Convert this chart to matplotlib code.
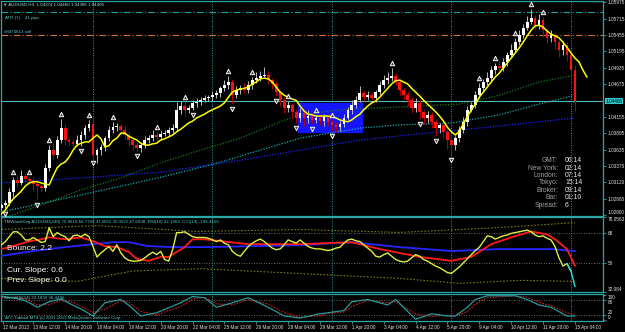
import matplotlib
matplotlib.use("Agg")
import matplotlib.pyplot as plt
import matplotlib.transforms as mtransforms
from matplotlib.patches import Rectangle
import numpy as np

plt.rcParams["font.family"] = ["Liberation Sans", "DejaVu Sans"]

# ---------------------------------------------------------------------------
# Data (AUDUSD H4)
# ---------------------------------------------------------------------------
OPEN_FIRST = 1.0270
CLOSE = [
    1.0272, 1.0276, 1.0279, 1.0297, 1.0316, 1.0311, 1.0322, 1.0317, 1.0314, 1.0309,
    1.0306, 1.0303, 1.0335, 1.0363, 1.0355, 1.0379, 1.0398, 1.0379, 1.0376, 1.0373,
    1.0379, 1.0387, 1.0398, 1.0404, 1.0355, 1.0363, 1.0368, 1.0382, 1.0395, 1.0400,
    1.0401, 1.0395, 1.0387, 1.0379, 1.0371, 1.0366, 1.0371, 1.0379, 1.0382, 1.0387,
    1.0384, 1.0389, 1.0390, 1.0395, 1.0398, 1.0427, 1.0433, 1.0427, 1.0430, 1.0438,
    1.0439, 1.0443, 1.0446, 1.0447, 1.0450, 1.0453, 1.0461, 1.0466, 1.0471, 1.0450,
    1.0458, 1.0461, 1.0458, 1.0466, 1.0474, 1.0477, 1.0481, 1.0482, 1.0474, 1.0468,
    1.0455, 1.0443, 1.0430, 1.0435, 1.0424, 1.0414, 1.0422, 1.0414, 1.0417, 1.0411,
    1.0414, 1.0409, 1.0416, 1.0408, 1.0403, 1.0400, 1.0404, 1.0414, 1.0427, 1.0435,
    1.0443, 1.0454, 1.0447, 1.0450, 1.0446, 1.0455, 1.0466, 1.0474, 1.0477, 1.0481,
    1.0471, 1.0458, 1.0450, 1.0443, 1.0430, 1.0438, 1.0424, 1.0414, 1.0419, 1.0408,
    1.0398, 1.0403, 1.0392, 1.0379, 1.0371, 1.0382, 1.0395, 1.0408, 1.0427, 1.0435,
    1.0450, 1.0461, 1.0471, 1.0477, 1.0490, 1.0496, 1.0493, 1.0503, 1.0514, 1.0522,
    1.0534, 1.0546, 1.0557, 1.0566, 1.0572, 1.0561, 1.0569, 1.0553, 1.0541, 1.0546,
    1.0534, 1.0522, 1.0530, 1.0514, 1.0490, 1.04406,
]
# wick lengths in pips above / below the body
WICK_UP = [
    4, 3, 5, 6, 4, 8, 10, 5, 4, 6, 3, 4, 6, 8, 12, 6, 14, 6, 5, 4,
    8, 6, 5, 6, 10, 4, 5, 3, 6, 8, 5, 4, 6, 4, 3, 5, 4, 6, 5, 8,
    4, 6, 5, 4, 6, 12, 8, 6, 5, 4, 6, 4, 5, 4, 6, 5, 4, 8, 10, 4,
    6, 5, 8, 6, 5, 10, 8, 12, 6, 4, 5, 3, 4, 6, 3, 5, 8, 6, 10, 5,
    4, 6, 5, 4, 3, 4, 5, 6, 5, 8, 6, 10, 4, 6, 5, 4, 6, 8, 10, 12,
    5, 4, 3, 6, 4, 8, 5, 3, 6, 4, 5, 3, 4, 5, 6, 4, 6, 8, 6, 5,
    6, 8, 5, 10, 6, 5, 8, 6, 5, 10, 6, 8, 6, 10, 14, 6, 10, 5, 4, 8,
    4, 5, 6, 4, 5, 8,
]
WICK_DN = [
    5, 4, 6, 5, 8, 6, 4, 5, 6, 10, 22, 6, 4, 5, 6, 5, 4, 8, 6, 5,
    4, 10, 6, 5, 4, 12, 8, 6, 4, 5, 6, 8, 6, 10, 8, 5, 6, 4, 5, 4,
    6, 5, 4, 6, 5, 4, 6, 10, 5, 4, 6, 5, 4, 5, 6, 4, 5, 4, 6, 14,
    5, 6, 4, 5, 6, 4, 5, 4, 6, 8, 6, 10, 8, 6, 10, 8, 6, 12, 8, 6,
    5, 6, 8, 6, 10, 8, 6, 5, 4, 6, 5, 4, 6, 5, 4, 6, 5, 4, 6, 5,
    4, 8, 6, 10, 8, 6, 12, 10, 8, 10, 12, 8, 10, 14, 16, 8, 6, 5, 6, 4,
    5, 4, 6, 5, 4, 6, 5, 4, 6, 4, 5, 4, 5, 4, 3, 8, 6, 10, 8, 6,
    10, 12, 8, 10, 12, 16,
]

# shifted moving average (yellow), starts at bar 1, runs 3 bars past the last candle
YELLOW_MA = [
    1.0262, 1.0268, 1.0278, 1.0286, 1.0292, 1.0298, 1.0306, 1.0311, 1.0313, 1.0313,
    1.0311, 1.0309, 1.0308, 1.0322, 1.0335, 1.0341, 1.0344, 1.0352, 1.0363, 1.0371,
    1.0374, 1.0376, 1.0376, 1.0382, 1.0387, 1.0381, 1.0368, 1.0370, 1.0378, 1.0382,
    1.0390, 1.0390, 1.0385, 1.0382, 1.0379, 1.0374, 1.0371, 1.0371, 1.0373, 1.0374,
    1.0379, 1.0381, 1.0384, 1.0387, 1.0392, 1.0396, 1.0401, 1.0406, 1.0409, 1.0414,
    1.0417, 1.0420, 1.0424, 1.0427, 1.0430, 1.0433, 1.0438, 1.0447, 1.0455, 1.0458,
    1.0460, 1.0461, 1.0463, 1.0468, 1.0471, 1.0476, 1.0477, 1.0476, 1.0471, 1.0463,
    1.0455, 1.0450, 1.0447, 1.0444, 1.0442, 1.0433, 1.0425, 1.0420, 1.0419, 1.0417,
    1.0417, 1.0417, 1.0417, 1.0416, 1.0414, 1.0411, 1.0409, 1.0408, 1.0411, 1.0416,
    1.0420, 1.0427, 1.0433, 1.0438, 1.0441, 1.0447, 1.0454, 1.0461, 1.0468, 1.0473,
    1.0474, 1.0471, 1.0468, 1.0461, 1.0455, 1.0449, 1.0442, 1.0436, 1.0430, 1.0424,
    1.0417, 1.0409, 1.0399, 1.0392, 1.0387, 1.0393, 1.0405, 1.0416, 1.0427, 1.0436,
    1.0447, 1.0455, 1.0463, 1.0471, 1.0479, 1.0485, 1.0493, 1.0501, 1.0509, 1.0517,
    1.0525, 1.0534, 1.0544, 1.0553, 1.0560, 1.0561, 1.0558, 1.0552, 1.0547, 1.0544,
    1.0541, 1.0534, 1.0526, 1.0517, 1.0509, 1.0503, 1.0490, 1.0479,
]

# slow averages (dotted), sampled at these bars
SLOW_BARS = [1, 11, 21, 31, 41, 51, 61, 71, 76, 86, 96, 106, 116, 126, 136, 145]
GREEN_MA = [1.0254, 1.0276, 1.0300, 1.0319, 1.0343, 1.0363, 1.0382, 1.0408, 1.0419,
            1.0427, 1.0430, 1.0433, 1.0436, 1.0450, 1.0471, 1.0482]
TEAL_BARS = [1, 21, 41, 56, 76, 91, 101, 114, 126, 136, 145]
TEAL_MA = [1.0265, 1.0292, 1.0320, 1.0344, 1.0382, 1.0398, 1.0403, 1.0406, 1.0419,
           1.0436, 1.0450]
BLUE_BARS = [1, 21, 41, 61, 76, 91, 106, 121, 136, 145]
BLUE_MA = [1.0311, 1.0319, 1.0328, 1.0347, 1.0363, 1.0379, 1.0389, 1.0398, 1.0408,
           1.0414]

UP_FRACTALS = [4, 8, 13, 16, 23, 29, 40, 47, 58, 64, 73, 80, 84, 99, 121, 125, 130, 134, 137]
DN_FRACTALS = [2, 10, 21, 24, 35, 49, 59, 70, 75, 79, 84, 106, 110, 114]

BOX_BARS = (75.4, 91.5)
BOX_PRICES = (1.0392, 1.0438)

LAST_PRICE = 1.04406
ORDER_PRICE = 1.0546       # "#8473613 sell"
TARGET_PRICE = 1.0582      # cyan dash-dot

PRICE_TICKS = [1.05975, 1.05715, 1.05455, 1.05195, 1.04935, 1.04675, 1.04155,
               1.03895, 1.03635, 1.03375, 1.03120, 1.02860, 1.02600]

# TMWatchDog panel
OSC_YELLOW = [
    60, 61, 63, 66, 69, 69, 67, 64, 64, 65.5,
    64, 62.5, 63, 71.5, 66, 68.5, 67, 66, 63.5, 66.5,
    67, 66, 67.5, 66, 60, 53.5, 56, 58, 60, 57,
    61, 56, 53, 51.5, 51, 51, 51.5, 53, 55, 56.5,
    55, 57, 52, 51, 58, 68.5, 68.5, 69, 67.5, 66,
    65.5, 65.5, 65.5, 65, 64, 63, 64, 62, 61, 57,
    55, 54, 57, 60, 62, 63.5, 64.5, 63, 61, 59,
    58, 58.5, 61, 64, 63, 62, 64, 62, 60, 59,
    58.5, 58.5, 58, 57.5, 58, 59, 59.5, 62, 64, 64.5,
    63.5, 63, 61, 59, 57, 54, 53.5, 55, 56, 54,
    52, 51, 50.5, 51, 53, 55, 54, 52, 51, 49.5,
    48, 47, 45.5, 44, 43.5, 45.5, 47.5, 50, 52.5, 55,
    57.5, 59.5, 63, 66.5, 66, 64.5, 65.5, 66.5, 67, 68,
    68.5, 69, 69.5, 70, 69, 67, 66, 66.5, 65, 64,
    60, 53, 48, 49.5, 45, 35.5,
]
OSC_RED_BARS = [1, 4, 8, 11, 13, 17, 21, 24, 27, 30, 33, 35, 38, 41, 43, 47, 49, 52,
                63, 76, 89, 96, 106, 114, 119, 124, 129, 134, 138, 140, 143, 145]
OSC_RED = [58.4, 60.2, 63.2, 64.4, 65.6, 64.4, 65.6, 63.2, 60.2, 59.6, 56.6, 52.4,
           51.2, 53.6, 53.6, 59.6, 64.4, 64.4, 61.4, 61.4, 62.6, 58.4, 53.6, 51.2,
           53.6, 61.4, 65.6, 69.2, 67.4, 64.4, 58.4, 48.2]
OSC_BLUE_BARS = [1, 9, 17, 24, 29, 33, 38, 44, 48, 53, 76, 89, 101, 114, 126, 139, 145]
OSC_BLUE = [54.2, 57.2, 59.6, 61.4, 62.6, 62.6, 60.2, 59.6, 59.6, 59.6, 60.8, 62.6,
            59.6, 57.2, 58.4, 58.4, 57.2]
BAND_BARS = [1, 25, 50, 76, 101, 126, 145]
BAND_UP = [70.4, 72.8, 69.2, 70.4, 68.6, 71.6, 74.6]
BAND_DN_BARS = [1, 20, 34, 51, 76, 101, 116, 131, 145]
BAND_DN = [40.4, 38.6, 45.0, 46.4, 43.4, 40.4, 37.4, 39.2, 38.6]
OSC_LEVELS = [68, 50]
OSC_TICKS = [78.0563, 68, 50, 32.084]

# StochRSI panel
STOCH_BARS = [1, 4, 7, 8, 10, 13, 16, 19, 21, 24, 27, 31, 33, 36, 40, 46, 49, 52, 55,
              59, 63, 68, 72, 76, 81, 83, 87, 89, 93, 98, 100, 105, 109, 113, 115,
              118, 120, 123, 130, 133, 136, 139, 143, 145]
STOCH_K = [95, 90, 78, 70, 52, 74, 85, 60, 45, 17, 70, 83, 60, 17, 30, 70, 95, 90, 52,
           70, 90, 52, 17, 9, 26, 30, 39, 74, 83, 61, 83, 4, 26, 17, 17, 52, 83, 98,
           98, 83, 61, 52, 17, 17]
STOCH_D = [90, 92, 85, 78, 62, 62, 80, 72, 55, 30, 45, 78, 72, 35, 22, 55, 85, 92, 65,
           62, 82, 65, 30, 12, 18, 28, 33, 55, 80, 70, 75, 25, 15, 20, 17, 35, 65, 90,
           98, 92, 72, 58, 30, 20]
STOCH_TICKS = [100, 80, 20, 0]

WEEK_STARTS = [24, 54, 84, 114, 144]
TIME_BARS = [1.4, 9, 17, 25, 33, 41, 49, 57, 65, 73, 81, 89, 97, 105, 113, 121, 129, 137, 145]
TIME_LABELS = ["12 Mar 2013", "13 Mar 12:00", "14 Mar 20:00", "18 Mar 04:00",
               "19 Mar 12:00", "20 Mar 20:00", "22 Mar 04:00", "25 Mar 12:00",
               "26 Mar 20:00", "28 Mar 04:00", "29 Mar 12:00", "1 Apr 20:00",
               "3 Apr 04:00", "4 Apr 12:00", "5 Apr 20:00", "9 Apr 04:00",
               "10 Apr 12:00", "11 Apr 20:00", "15 Apr 04:00"]

CLOCK_NAMES = ["GMT:", "New York:", "London:", "Tokyo:", "Broker:", "Bar:", "Spread:"]
CLOCK_VALUES = ["06:14", "02:14", "07:14", "15:14", "09:14", "01:10", "6"]

# ---------------------------------------------------------------------------
# Look
# ---------------------------------------------------------------------------
W, H = 625, 332
BG = "black"
FRAME = "#2aa6a6"
TXT = "#e4e4e4"
INFO = "#5cc8c8"
PIP = 0.0001
X_LEFT, X_RIGHT = 1.03, 152.05


def px_axes(fig, x0, y0, x1, y1):
    ax = fig.add_axes([x0 / W, 1 - y1 / H, (x1 - x0) / W, (y1 - y0) / H])
    ax.set_facecolor(BG)
    for s in ax.spines.values():
        s.set_color(FRAME)
        s.set_linewidth(0.9)
    ax.set_xlim(X_LEFT, X_RIGHT)
    ax.yaxis.tick_right()
    ax.tick_params(axis="y", which="both", length=2, width=0.6, color=FRAME,
                   labelcolor=TXT, labelsize=3.4, pad=1.5)
    ax.tick_params(axis="x", length=0, labelbottom=False)
    for b in WEEK_STARTS:
        ax.axvline(b, color=FRAME, lw=0.7, ls=(0, (1, 1.5)), zorder=1)
    return ax


def ftext(x, y, s, **kw):
    kw.setdefault("fontsize", 3.2)
    kw.setdefault("va", "center")
    fig.text(x / W, 1 - y / H, s, **kw)


fig = plt.figure(figsize=(W / 100, H / 100), dpi=100)
fig.patch.set_facecolor(BG)

# ---------------------------------------------------------------------------
# Price panel
# ---------------------------------------------------------------------------
ax = px_axes(fig, 1.5, 0.5, 603, 215.5)
ax.set_ylim(1.02594, 1.06002)

close = np.array(CLOSE)
opens = np.concatenate([[OPEN_FIRST], close[:-1]])
bars = np.arange(len(close))
top = np.maximum(opens, close)
bot = np.minimum(opens, close)
high = top + np.array(WICK_UP) * PIP
low = bot - np.array(WICK_DN) * PIP
up = close >= opens

ax.add_patch(Rectangle((BOX_BARS[0], BOX_PRICES[0]), BOX_BARS[1] - BOX_BARS[0],
                       BOX_PRICES[1] - BOX_PRICES[0], color="#1414ff", zorder=1.5))

ax.vlines(bars[up], low[up], high[up], color="#b8b8b8", lw=0.7, zorder=3)
ax.vlines(bars[~up], low[~up], high[~up], color="#b00000", lw=0.7, zorder=3)
ax.bar(bars[up], np.maximum(top - bot, 0.5 * PIP)[up], bottom=bot[up], width=0.7,
       color="white", zorder=4)
ax.bar(bars[~up], np.maximum(top - bot, 0.5 * PIP)[~up], bottom=bot[~up], width=0.7,
       color="#ff1010", zorder=4)

ax.plot(SLOW_BARS, GREEN_MA, color="#1d7a1d", lw=0.9, ls=(0, (1, 1.2)), zorder=2)
ax.plot(TEAL_BARS, TEAL_MA, color="#16b0b0", lw=0.9, ls=(0, (1, 1.2)), zorder=2)
ax.plot(BLUE_BARS, BLUE_MA, color="#2020ff", lw=0.9, ls=(0, (1, 1.2)), zorder=2)
ax.plot(np.arange(1, 1 + len(YELLOW_MA)), YELLOW_MA, color="#ffff00", lw=1.1, zorder=5)

ax.scatter(UP_FRACTALS, high[UP_FRACTALS] + 8 * PIP, marker="^", s=10,
           facecolors="#404040", edgecolors="#f4f4f4", linewidths=0.7, zorder=6)
ax.scatter(DN_FRACTALS, low[DN_FRACTALS] - 8 * PIP, marker="v", s=10,
           facecolors="#404040", edgecolors="#f4f4f4", linewidths=0.7, zorder=6)

ax.axhline(LAST_PRICE, color="#4fb8b8", lw=0.8, zorder=2)
ax.axhline(TARGET_PRICE, color="#1fa0a0", lw=0.8, ls=(0, (6, 2, 1, 2)), zorder=2)
ax.axhline(ORDER_PRICE, color="#d07030", lw=0.8, ls=(0, (6, 2, 1, 2)), zorder=2)

ax.set_yticks(PRICE_TICKS)
ax.set_yticklabels([f"{p:.5f}" for p in PRICE_TICKS])
ax.get_yticklabels()[-1].set_va("bottom")
trans = mtransforms.blended_transform_factory(ax.transAxes, ax.transData)
ax.text(1.004, LAST_PRICE, f"{LAST_PRICE:.5f}", transform=trans, fontsize=3.4,
        va="center", ha="left", color="black",
        bbox=dict(boxstyle="square,pad=0.15", fc="#30c8c8", ec="none"))

ftext(3, 5, "\u25bc AUDUSD,H4  1.04374 1.04460 1.04306 1.04406", color="#a8e0e0")
ftext(5, 18, "ATR (7):   41 pips", color=INFO)
ftext(4, 32, "#8473613 sell", color=INFO)

for k, (name, val) in enumerate(zip(CLOCK_NAMES, CLOCK_VALUES)):
    y = 160.8 + k * 7.4
    ftext(558, y, name, fontsize=4.9, ha="right", color="#a0a0a0")
    ftext(565, y, val, fontsize=4.9, ha="left", color="#e8e8e8")

# ---------------------------------------------------------------------------
# TMWatchDog panel
# ---------------------------------------------------------------------------
ax2 = px_axes(fig, 1.5, 217, 603, 292)
ax2.set_ylim(32.084, 78.0563)
for lv in OSC_LEVELS:
    ax2.axhline(lv, color="#8a8a8a", lw=0.6, ls=(0, (1, 2)), zorder=1)
ax2.plot(BAND_BARS, BAND_UP, color="#7a7a1a", lw=0.8, ls=(0, (1.5, 1.5)), zorder=2)
ax2.plot(BAND_DN_BARS, BAND_DN, color="#7a7a1a", lw=0.8, ls=(0, (1.5, 1.5)), zorder=2)
ax2.plot(OSC_BLUE_BARS, OSC_BLUE, color="#2626ff", lw=1.3, zorder=3)
ax2.plot(OSC_RED_BARS, OSC_RED, color="#ff1a1a", lw=1.3, zorder=4)
osc = np.array(OSC_YELLOW)
ax2.plot(bars[:145], osc[:145], color="#e0f040", lw=1.0, zorder=5)
ax2.plot(bars[143:], osc[143:], color="#20e0e0", lw=1.0, zorder=5)
ax2.set_yticks(OSC_TICKS)
ax2.set_yticklabels(["78.0563", "68", "50", "32.084"])
ax2.get_yticklabels()[0].set_va("top")
ax2.get_yticklabels()[-1].set_va("bottom")

ftext(4, 222, "TMWatchDog AUDUSD(240) 75.9616 56.7792 37.5852 35.0522 47.6938  "
      "RSI(10) 22.1962  CCI(14) -196.4160", color=INFO)
ftext(7, 249, "Bounce: 2.2", fontsize=6, color="white")
ftext(7, 270, "Cur. Slope: 0.6", fontsize=6, color="white")
ftext(7, 280, "Prev. Slope: 0.0", fontsize=6, color="white")

# ---------------------------------------------------------------------------
# StochRSI panel
# ---------------------------------------------------------------------------
ax3 = px_axes(fig, 1.5, 294, 603, 321)
ax3.set_ylim(-3, 105)
for lv in (80, 20):
    ax3.axhline(lv, color="#8a8a8a", lw=0.6, ls=(0, (1, 2)), zorder=1)
ax3.plot(STOCH_BARS, STOCH_D, color="#d02020", lw=0.8, ls=(0, (1.5, 1.2)), zorder=3)
ax3.plot(STOCH_BARS, STOCH_K, color="#2a9a9a", lw=0.9, zorder=4)
ax3.set_yticks(STOCH_TICKS)
ax3.set_yticklabels([str(t) for t in STOCH_TICKS])
# labels sit tight in this thin panel: push them apart
for lbl, va in zip(ax3.get_yticklabels(), ["top", "top", "bottom", "bottom"]):
    lbl.set_va(va)
ftext(4, 298.5, "StochRSI(14) 23.1839 36.4496", color=INFO)
ftext(5, 318, "ATC Tabbed MT4 (c) 2001-2012 MetaQuotes Software Corp.", color=INFO)

ax3.set_xticks(TIME_BARS)
ax3.set_xticklabels(TIME_LABELS)
ax3.tick_params(axis="x", length=2, width=0.6, color=FRAME, labelcolor=TXT,
                labelsize=3.3, pad=1.2, labelbottom=True)
for lbl in ax3.get_xticklabels():
    lbl.set_ha("left")

fig.savefig("out.png", dpi=100, facecolor=BG)
